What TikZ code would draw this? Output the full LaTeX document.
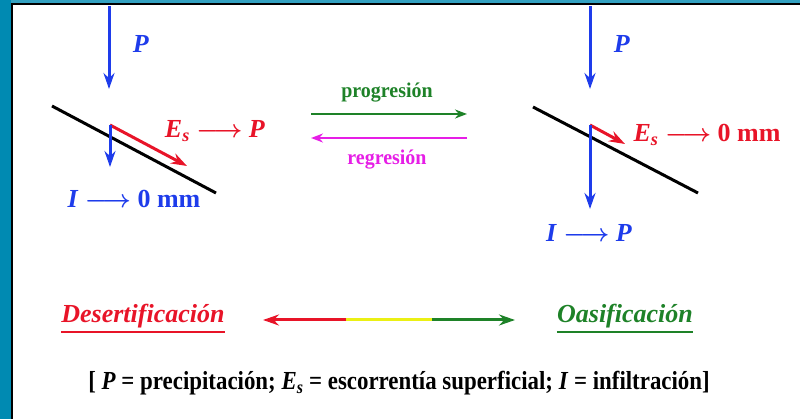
\documentclass[tikz,border=0pt]{standalone}
\usepackage{fontspec}
\setmainfont{Liberation Serif}
\usetikzlibrary{arrows,arrows.meta,positioning}

\definecolor{marco}{RGB}{0,138,178}
\definecolor{azul}{RGB}{30,60,235}
\definecolor{rojo}{RGB}{232,20,40}
\definecolor{verde}{RGB}{30,130,40}
\definecolor{magenta}{RGB}{230,30,230}
\definecolor{amarillo}{RGB}{235,240,20}

\newcommand{\flec}{{\boldmath$\longrightarrow$}}

\tikzset{
  flecha/.style={-{Stealth[length=16pt,width=11pt]}, line width=3pt},
  flechita/.style={-{Stealth[length=12pt,width=9pt]}, line width=2.8pt},
  suelo/.style={line width=3pt, black},
  lbl/.style={font=\fontsize{26}{28}\selectfont\bfseries, inner sep=0pt},
  rot/.style={font=\fontsize{21}{23}\selectfont\bfseries, inner sep=0pt, xscale=0.95}
}

\begin{document}
\begin{tikzpicture}[x=1pt,y=-1pt]
    \useasboundingbox (0,0) rectangle (800,419);

    % Marco
    \fill[marco] (0,0) rectangle (11,419);
    \fill[marco!80!white] (11,0) rectangle (800,4);
    \draw[line width=2pt, black] (11.5,419) -- (11.5,4.5) -- (800,4.5);

    % Desertificacion (izquierda)
    \coordinate (pa) at (109,6);
    \coordinate (pa2) at (109,89);
    \draw[flecha, azul] (pa) -- (pa2);
    \node[lbl, azul] (Pa) at (141,44) {\textit{P}};
    \coordinate (sa1) at (52,106);
    \coordinate (sa2) at (216,193);
    \draw[suelo] (sa1) -- (sa2);
    \coordinate (oa) at (110,125);
    \coordinate (ea) at (187,166);
    \draw[flecha, rojo] (oa) -- (ea);
    \coordinate (ia) at (110,167);
    \draw[flecha, azul] (oa) -- (ia);
    \node[lbl, rojo] (Ea) at (215,131) {\textit{E\textsubscript{s}} \flec{} \textit{P}};
    \node[lbl, azul] (Ia) at (134,199) {\textit{I} \flec{} 0 mm};

    % Transicion
    \coordinate (m1) at (311,114);
    \coordinate (m2) at (467,114);
    \coordinate (m3) at (467,138);
    \coordinate (m4) at (311,138);
    \draw[flechita, verde] (m1) -- (m2);
    \draw[flechita, magenta] (m3) -- (m4);
    \node[rot, verde] (prog) at (387,93) {progresión};
    \node[rot, magenta] (reg) at (387,160) {regresión};

    % Oasificacion (derecha)
    \coordinate (pb) at (590,6);
    \coordinate (pb2) at (590,89);
    \draw[flecha, azul] (pb) -- (pb2);
    \node[lbl, azul] (Pb) at (622,44) {\textit{P}};
    \coordinate (sb1) at (533,107);
    \coordinate (sb2) at (698,193);
    \draw[suelo] (sb1) -- (sb2);
    \coordinate (ob) at (590,125);
    \coordinate (eb) at (625,144);
    \draw[flecha, rojo] (ob) -- (eb);
    \coordinate (ib) at (590,209);
    \draw[flecha, azul] (ob) -- (ib);
    \node[lbl, rojo] (Eb) at (707,135) {\textit{E\textsubscript{s}} \flec{} 0 mm};
    \node[lbl, azul] (Ib) at (589,233) {\textit{I} \flec{} \textit{P}};

    % Escala
    \node[lbl, rojo] (des) at (143,316) {\textit{Desertificación}};
    \node[lbl, verde] (oas) at (625,316) {\textit{Oasificación}};
    \draw[rojo, line width=2.5pt] ([yshift=-4pt]des.south west) -- ([yshift=-4pt]des.south east);
    \draw[verde, line width=2.5pt] ([yshift=-4pt]oas.south west) -- ([yshift=-4pt]oas.south east);
    \coordinate (e1) at (263,320);
    \coordinate (e2) at (346,320);
    \coordinate (e3) at (432,320);
    \coordinate (e4) at (515,320);
    \draw[line width=3pt, amarillo] (e2) -- (e3);
    \draw[flecha, rojo] (e2) -- (e1);
    \draw[flecha, verde] (e3) -- (e4);

    \node[font=\fontsize{26}{28}\selectfont\bfseries, inner sep=0pt, xscale=0.88] (ley) at (399,383)
      {[ \textit{P} = precipitación;\ \textit{E\textsubscript{s}} = escorrentía superficial;\ \textit{I} = infiltración]};
\end{tikzpicture}
\end{document}
